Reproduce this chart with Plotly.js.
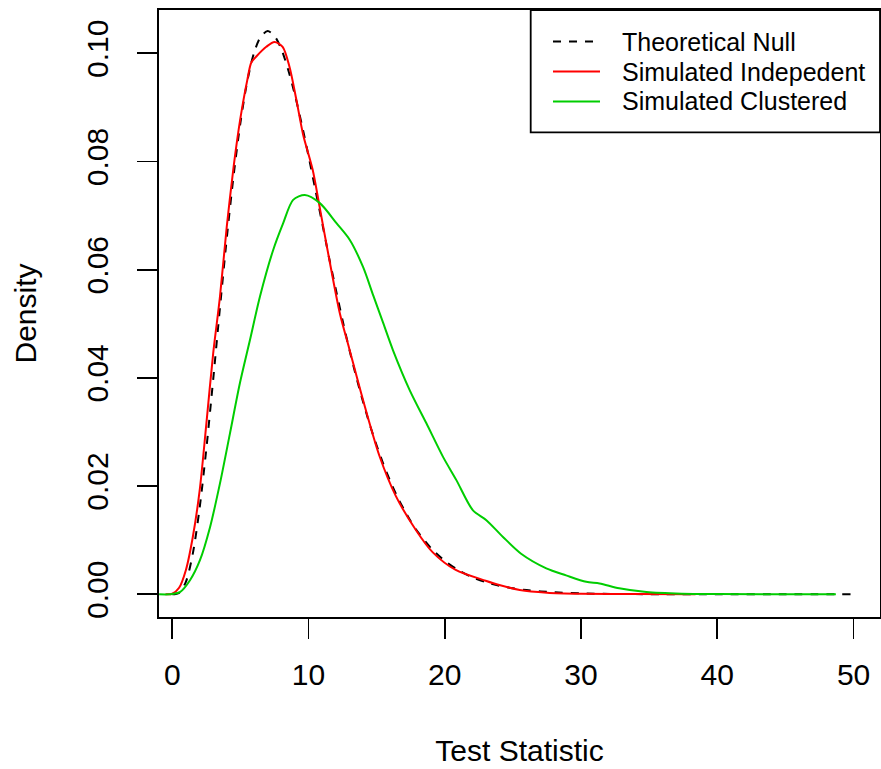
<!DOCTYPE html>
<html>
<head>
<meta charset="utf-8">
<script src="https://cdn.plot.ly/plotly-3.0.1.min.js"></script>
<style>html,body{margin:0;padding:0;background:#fff;}#chart{width:881px;height:769px;}</style>
</head>
<body>
<div id="chart"></div>
<script>
// Theoretical null density
const nullX = [0,0.5,1,1.5,2,2.5,3,3.5,4,4.5,5,5.5,6,6.5,7,7.5,8,8.5,9,9.5,10,10.5,11,11.5,12,12.5,13,13.5,14,14.5,15,15.5,16,16.5,17,17.5,18,19,20,21,22,23,24,25,26,28,30,33,36,40,45,50];
const nullY = [0,0.00026,0.00231,0.00742,0.01582,0.0269,0.03964,0.05298,0.06584,0.07739,0.08716,0.09478,0.1001,0.1031,0.1041,0.1032,0.1008,0.0970,0.0923,0.0869,0.0810,0.0748,0.0686,0.0623,0.0564,0.0506,0.0452,0.0402,0.0356,0.0313,0.0275,0.0240,0.0209,0.0181,0.0157,0.0135,0.0116,0.00851,0.00617,0.00444,0.00317,0.00224,0.00158,0.00111,0.00077,0.00037,0.00017,0.00005,0.00001,0.000002,0,0];

// Simulated independent density
const indX = [-0.5,0,0.5,1,1.5,2,2.5,3,3.5,4,4.5,5,5.5,5.8,6.2,6.9,7.5,8.1,8.6,9.1,9.6,10.3,10.8,11.5,12.3,13,14,15.2,16.4,17.9,19.1,20.8,23,24,25.5,27.5,30,34,38.4];
const indY = [0,0.0001,0.0012,0.0045,0.0105,0.0190,0.0315,0.0445,0.0550,0.0680,0.0790,0.0880,0.0950,0.0983,0.0995,0.1012,0.1021,0.1012,0.0975,0.0915,0.0850,0.0785,0.0718,0.0622,0.0519,0.0453,0.0359,0.0256,0.0182,0.0118,0.0078,0.0045,0.0025,0.0017,0.0008,0.0003,0.0001,0.00003,0];

// Simulated clustered density
const cluX = [-0.97,-0.2,0.56,1.3,2.03,2.77,3.5,4.23,4.96,5.7,6.43,7.4,8.14,8.87,9.73,10.83,12.05,13.03,14,14.74,15.47,16.2,17.43,18.65,19.87,20.85,22.07,23.05,24.27,25.6,27.45,28.9,30.38,31.36,32.8,34.8,37.4,40,48.7];
const cluY = [0,0,0.0004,0.0026,0.0063,0.0124,0.0205,0.0297,0.0390,0.0470,0.0550,0.0636,0.0686,0.0729,0.0738,0.0723,0.0686,0.0655,0.0605,0.0553,0.0502,0.0451,0.0377,0.0316,0.0254,0.0211,0.0155,0.0137,0.0106,0.0075,0.0048,0.0035,0.0023,0.0020,0.0011,0.0004,0.0001,0.00003,0];

const seriesNames = ["Theoretical Null","Simulated Indepedent","Simulated Clustered"];
const seriesColors = ["#000000","#FF0000","#00CD00"];
const xTicks = [0,10,20,30,40,50];
const yTicks = [0,0.02,0.04,0.06,0.08,0.10];
const yTickText = ["0.00","0.02","0.04","0.06","0.08","0.10"];

const FONT = "Liberation Sans, Arial, Helvetica, sans-serif";

const traces = [
  {x: nullX, y: nullY, name: seriesNames[0], mode: "lines",
   line: {color: seriesColors[0], width: 2, dash: "8px,8px", shape: "spline", smoothing: 0.8}},
  {x: indX, y: indY, name: seriesNames[1], mode: "lines",
   line: {color: seriesColors[1], width: 2, shape: "spline", smoothing: 0.8}},
  {x: cluX, y: cluY, name: seriesNames[2], mode: "lines",
   line: {color: seriesColors[2], width: 2, shape: "spline", smoothing: 0.8}}
];

// manual R-style legend (paper coordinates)
const W = 721, H = 607, L = 159, T = 10;
const px = v => (v - L) / W;
const py = v => (T + H - v) / H;
const rowsY = [41.5, 71.5, 101.5];
const shapes = [
  {type: "rect", xref: "paper", yref: "paper", x0: px(530.7), x1: 1, y0: py(132.3), y1: 1,
   line: {color: "#000", width: 1.8}, fillcolor: "#fff", layer: "above"}
];
const annotations = [];
rowsY.forEach((ry, i) => {
  shapes.push({type: "line", xref: "paper", yref: "paper", x0: px(553), x1: px(600), y0: py(ry), y1: py(ry),
    line: {color: seriesColors[i], width: 2, dash: i === 0 ? "8px,8px" : "solid"}, layer: "above"});
  annotations.push({xref: "paper", yref: "paper", x: px(620), y: py(ry), xanchor: "left", yanchor: "middle",
    text: seriesNames[i], showarrow: false, font: {family: FONT, size: 25, color: "#000"}});
});

const layout = {
  width: 881, height: 769,
  margin: {l: L, r: 1, t: T, b: 152, pad: 0},
  paper_bgcolor: "#fff", plot_bgcolor: "#fff",
  showlegend: false,
  font: {family: FONT, size: 30, color: "#000"},
  xaxis: {
    range: [-0.975, 51.94], tickvals: xTicks, ticktext: xTicks.map(String),
    ticks: "outside", ticklen: 20, tickwidth: 1.8, tickcolor: "#000",
    ticklabelstandoff: 10,
    showline: true, linecolor: "#000", linewidth: 1.8, mirror: true,
    showgrid: false, zeroline: false,
    tickfont: {family: FONT, size: 30},
    title: {text: "Test Statistic", font: {family: FONT, size: 30}, standoff: 50}
  },
  yaxis: {
    range: [-0.0042, 0.1080], tickvals: yTicks, ticktext: yTickText,
    tickangle: -90,
    ticks: "outside", ticklen: 20, tickwidth: 1.8, tickcolor: "#000",
    ticklabelstandoff: 17,
    showline: true, linecolor: "#000", linewidth: 1.8, mirror: true,
    showgrid: false, zeroline: false,
    tickfont: {family: FONT, size: 30},
    title: {text: "Density", font: {family: FONT, size: 30}, standoff: 36}
  },
  shapes: shapes,
  annotations: annotations
};

Plotly.newPlot("chart", traces, layout, {displayModeBar: false, staticPlot: true});
</script>
</body>
</html>
